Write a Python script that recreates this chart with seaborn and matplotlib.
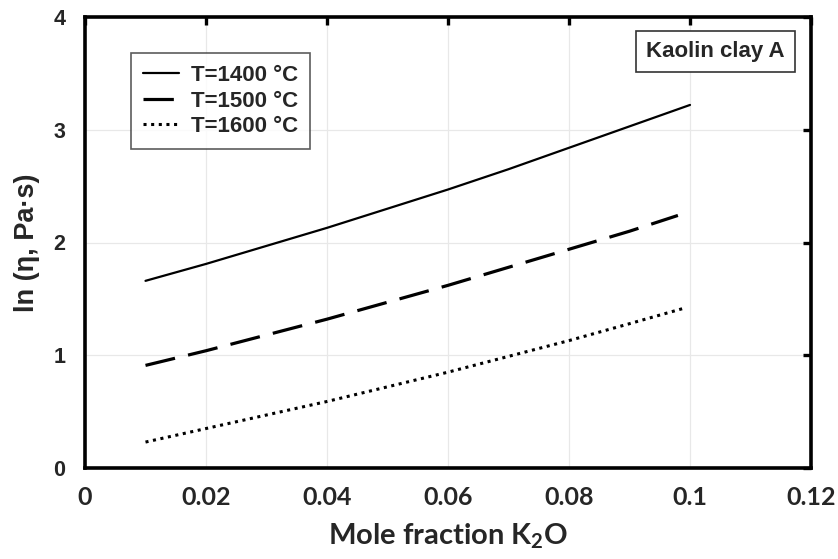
import numpy as np
import pandas as pd
import matplotlib
matplotlib.use("Agg")
import matplotlib.pyplot as plt
import seaborn as sns

# Data
x_1400 = [0.01, 0.02, 0.03, 0.04, 0.05, 0.06, 0.07, 0.08, 0.09, 0.10]
y_1400 = [1.66, 1.81, 1.97, 2.13, 2.30, 2.47, 2.65, 2.84, 3.03, 3.22]
x_1500 = [0.01, 0.02, 0.03, 0.04, 0.05, 0.06, 0.07, 0.08, 0.09, 0.098]
y_1500 = [0.91, 1.04, 1.18, 1.32, 1.47, 1.62, 1.78, 1.94, 2.10, 2.24]
x_1600 = [0.01, 0.02, 0.03, 0.04, 0.05, 0.06, 0.07, 0.08, 0.09, 0.0992]
y_1600 = [0.23, 0.35, 0.47, 0.59, 0.72, 0.85, 0.99, 1.13, 1.28, 1.42]
series_labels = ["T=1400 °C", "T=1500 °C", "T=1600 °C"]
x_ticks = [0, 0.02, 0.04, 0.06, 0.08, 0.1, 0.12]
x_ticklabels = ["0", "0.02", "0.04", "0.06", "0.08", "0.1", "0.12"]
y_ticks = [0, 1, 2, 3, 4]
annotation = "Kaolin clay A"

sns.set_theme(style="white")
plt.rcParams['font.family'] = ['Liberation Sans', 'DejaVu Sans']

df = pd.concat([
    pd.DataFrame({"x": x_1400, "y": y_1400, "T": series_labels[0]}),
    pd.DataFrame({"x": x_1500, "y": y_1500, "T": series_labels[1]}),
    pd.DataFrame({"x": x_1600, "y": y_1600, "T": series_labels[2]}),
])

fig = plt.figure(figsize=(8.38, 5.59), dpi=100)
ax = fig.add_axes([85/838, 1-468/559, (811-85)/838, (468-17)/559])

styles = [
    dict(lw=1.6, ls="-"),
    dict(lw=2.3, ls=(0, (9.5, 4.2))),
    dict(lw=2.2, ls=(0, (1.0, 1.5))),
]
for lab, st in zip(series_labels, styles):
    sub = df[df["T"] == lab]
    sns.lineplot(data=sub, x="x", y="y", ax=ax, color="black",
                 linewidth=st["lw"], linestyle=st["ls"], label=lab,
                 estimator=None, sort=False)

ax.set_xlim(0, 0.12)
ax.set_ylim(0, 4)
ax.set_xticks(x_ticks)
ax.set_xticklabels(x_ticklabels)
ax.set_yticks(y_ticks)
ax.grid(True, color="#e8e8e8", linewidth=0.9)

for sp in ax.spines.values():
    sp.set_visible(True)
    sp.set_color("black")
    sp.set_linewidth(2.6)

ax.tick_params(axis="both", direction="in", length=6, width=2.4,
               top=True, right=True, color="black")
ax.tick_params(axis="x", pad=13)
ax.tick_params(axis="y", pad=14)

for t in ax.get_xticklabels():
    t.set_fontfamily(['Lato', 'Liberation Sans', 'DejaVu Sans'])
    t.set_fontweight("bold")
    t.set_fontsize(18)
for t in ax.get_yticklabels():
    t.set_fontweight("bold")
    t.set_fontsize(15.5)

ax.set_xlabel("Mole fraction K$_\\mathregular{2}$O", fontsize=21, fontweight="bold",
              family=['Lato', 'DejaVu Sans'], labelpad=9)
ax.set_ylabel("ln (η, Pa·s)", fontsize=19.5, fontweight="bold", labelpad=10)

leg = ax.legend(loc="upper left", bbox_to_anchor=((131-85)/726, 1-(53-17)/451),
                borderaxespad=0.0,
                frameon=True, fancybox=False, edgecolor="#333333",
                prop=dict(weight="bold", size=16),
                handlelength=1.6, handletextpad=0.55, borderpad=0.55,
                labelspacing=0.2)
leg.get_frame().set_linewidth(1.2)

ax.text(0.1042, 3.69, annotation, ha="center", va="center",
        fontsize=16, fontweight="bold",
        bbox=dict(boxstyle="square,pad=0.45", facecolor="white",
                  edgecolor="#333333", linewidth=1.2))

fig.savefig("out.png", dpi=100)
